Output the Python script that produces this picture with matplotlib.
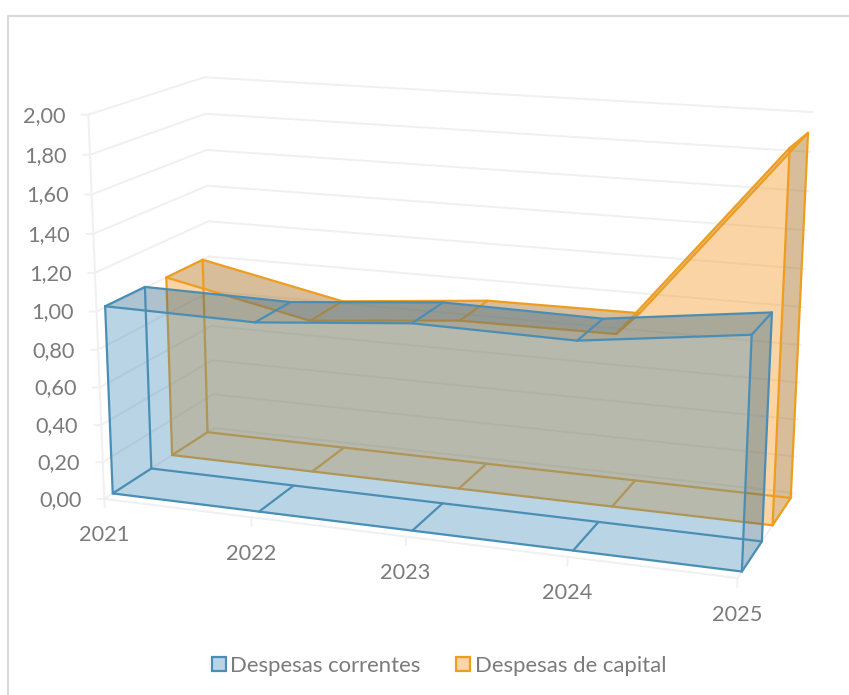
import numpy as np
import matplotlib
matplotlib.use("Agg")
import matplotlib.pyplot as plt
from matplotlib.patches import Patch
from matplotlib.lines import Line2D
from mpl_toolkits.mplot3d.art3d import Poly3DCollection

YEARS = ["2021", "2022", "2023", "2024", "2025"]
CORRENTES = [1.005, 0.995, 1.065, 1.055, 1.16]
CAPITAL = [1.00, 0.835, 0.91, 0.915, 1.91]
SERIES_NAMES = ["Despesas correntes", "Despesas de capital"]
YTICKS = [0.0, 0.2, 0.4, 0.6, 0.8, 1.0, 1.2, 1.4, 1.6, 1.8, 2.0]

W, H = 849, 695
TEXT = "#7b7b7b"
GRID = "#f0f0f0"
BLUE = (70/255, 140/255, 185/255)
ORANGE = (245/255, 150/255, 30/255)
BLUE_DARK = (50/255, 85/255, 110/255)
ORANGE_DARK = (130/255, 95/255, 40/255)
plt.rcParams["font.family"] = ["Lato", "DejaVu Sans"]

BF, BB, OF, OB = 0.14, 0.81, 1.19, 1.87  # depth slots of the two series

# camera calibration: (x, depth, value) -> reference pixel
CAMERA = [
    (0, 0, 0, 103, 498), (4, 0, 0, 737, 578), (0, 0, 2, 87, 115),
    (0, 2, 2, 206, 77), (4, 2, 2, 812, 112), (4, 2, 0, 795, 492),
    (0, 2, 0, 212, 429), (0, BF, 0, 114, 492), (4, BF, 0, 742, 571),
    (0, BB, 0, 152, 468), (4, BB, 0, 763, 540), (0, OF, 0, 173, 455),
    (4, OF, 0, 772, 526), (0, OB, 0, 207, 433), (4, OB, 0, 790, 498),
    (1, 0, 0, 250, 519), (3, 0, 0, 567, 560), (1, BF, 0, 262, 510),
]


def solve_camera(rows):
    A = []
    for x, y, z, u, v in rows:
        A.append([x, y, z, 1, 0, 0, 0, 0, -u*x, -u*y, -u*z, -u])
        A.append([0, 0, 0, 0, x, y, z, 1, -v*x, -v*y, -v*z, -v])
    P = np.linalg.svd(np.array(A, float))[2][-1].reshape(3, 4)
    return P if P[2, 3] > 0 else -P


P = solve_camera(CAMERA)


def project(x, y, z):
    u, v, w = P @ np.array([x, y, z, 1.0])
    return u/w, v/w


fig = plt.figure(figsize=(W/100, H/100), dpi=100, facecolor="white")
ax = fig.add_axes([0, 0, 1, 1], projection="3d", computed_zorder=False)
ax.apply_aspect = lambda position=None: None
ax.set_position([0, 0, 1, 1])
ax.set_axis_off()
ax.patch.set_visible(False)

# frame of the chart area
fig.add_artist(Line2D([8/W, 8/W, 1], [0, 1 - 16/H, 1 - 16/H], transform=fig.transFigure,
                      color="#d9d9d9", lw=1.5, zorder=-1))


def camera_proj():
    vl = ax.viewLim
    A = np.array([[vl.width/W, 0, vl.x0], [0, -vl.height/H, vl.y1], [0, 0, 1]])
    Q = A @ P
    return np.array([Q[0], Q[1], [0, -1, 0, -5], Q[2]])


ax.get_proj = camera_proj


def grid_line(xs, ys, zs, z=1):
    ax.plot(xs, ys, zs, color=GRID, lw=1.4, zorder=z, solid_capstyle="round")


# walls and floor
for v in YTICKS:
    grid_line([-0.037, 0, 0], [-0.022, 0, 2], [v, v, v])
    grid_line([0, 4], [2, 2], [v, v])
    u, w = project(0, 0, v)
    fig.text((u - 23)/W, 1 - (w + 1)/H, f"{v:.2f}".replace(".", ","), ha="right", va="center",
             color=TEXT, fontsize=15.7)
grid_line([0, 0], [0, 0], [0, 2])
grid_line([0, 4, 4, 0], [0, 0, 2, 2], [0, 0, 0, 0])
for i, year in enumerate(YEARS):
    grid_line([i, i], [0, 0], [0, -0.045])
    u, w = project(i, 0, 0)
    fig.text((u - 0.5)/W, 1 - (w + 36.5)/H, year, ha="center", va="center", color=TEXT, fontsize=15.7)


def face(verts, color, alpha, z):
    ax.add_collection3d(Poly3DCollection([verts], facecolors=[(*color, alpha)],
                                         edgecolors="none", linewidths=0, zorder=z))


def area(values, y0, y1, color, dark, alpha, dark_alpha, line, base):
    n = len(values)
    xs = range(n)
    back = [(i, y1, values[i]) for i in xs] + [(n-1, y1, 0), (0, y1, 0)]
    front = [(i, y0, values[i]) for i in xs] + [(n-1, y0, 0), (0, y0, 0)]
    face(back, color, alpha, base)
    face([(n-1, y0, 0), (n-1, y1, 0), (n-1, y1, values[-1]), (n-1, y0, values[-1])], dark, dark_alpha, base+1)
    for i in range(n-1):
        face([(i, y0, values[i]), (i+1, y0, values[i+1]), (i+1, y1, values[i+1]), (i, y1, values[i])],
             dark, dark_alpha, base+1)
    face(front, color, alpha, base+2)
    face([(0, y0, 0), (n-1, y0, 0), (n-1, y1, 0), (0, y1, 0)], color, alpha, base+2)
    face([(0, y0, 0), (0, y1, 0), (0, y1, values[0]), (0, y0, values[0])], color, alpha, base+2)

    def edge(px, py, pz):
        ax.plot(px, py, pz, color=line, lw=1.6, zorder=base+3, solid_joinstyle="round", solid_capstyle="round")
    for y in (y1, y0):
        edge(list(xs) + [n-1, 0, 0], [y]*(n+3), list(values) + [0, 0, values[0]])
    for i in xs:
        edge([i, i], [y0, y1], [values[i], values[i]])
        edge([i, i], [y0, y1], [0, 0])


area(CAPITAL, OF, OB, ORANGE, ORANGE_DARK, 0.225, 0.3, "#ef9d1f", 5)
area(CORRENTES, BF, BB, BLUE, BLUE_DARK, 0.206, 0.26, "#4a8eb5", 10)

handles = [Patch(facecolor=(*BLUE, 0.37), edgecolor="#4a8eb5", lw=1.6),
           Patch(facecolor=(*ORANGE, 0.4), edgecolor="#ef9d1f", lw=1.6)]
fig.legend(handles, SERIES_NAMES, loc="center", bbox_to_anchor=(439/W, 1 - 666/H), ncol=2,
           frameon=False, fontsize=15.9, labelcolor=TEXT, handlelength=0.62, handleheight=0.62,
           handletextpad=0.22, columnspacing=1.6, borderpad=0, borderaxespad=0)

fig.savefig("out.png", dpi=100, facecolor="white")
